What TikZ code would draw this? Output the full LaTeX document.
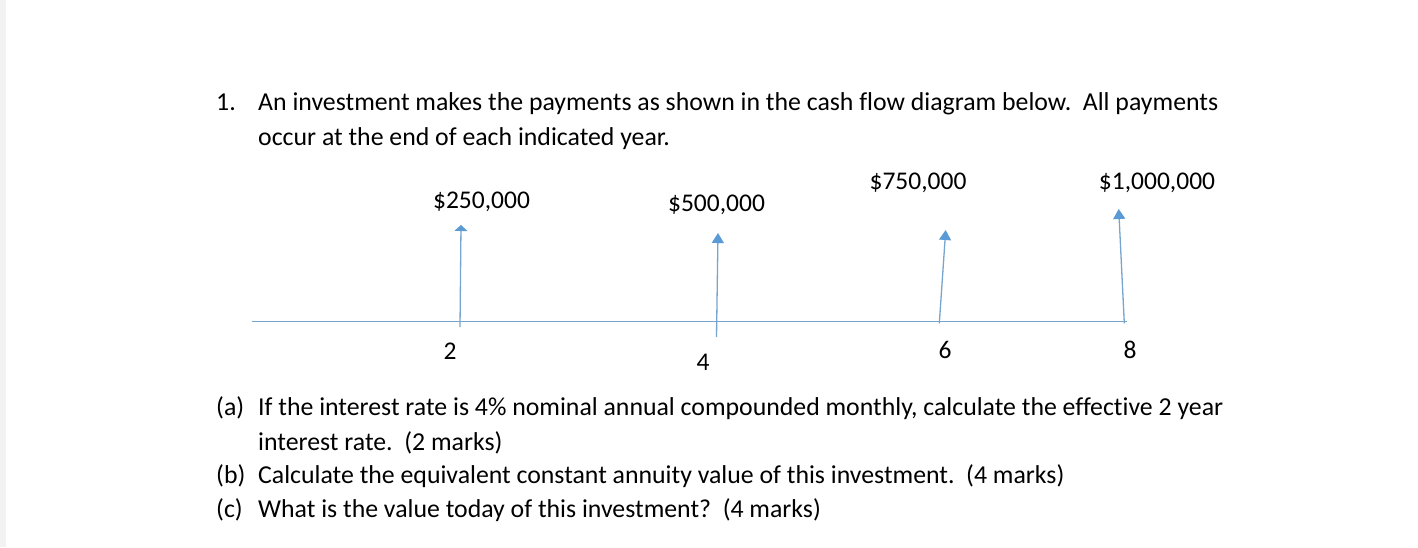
\documentclass[tikz,border=0pt]{standalone}
\usepackage{fontspec}
\setmainfont[Ligatures={NoCommon}]{Carlito}
\usetikzlibrary{arrows.meta}
\definecolor{flowblue}{RGB}{91,155,213}
\definecolor{linblue}{RGB}{120,165,205}
\definecolor{stripgray}{RGB}{242,242,242}
\begin{document}
\begin{tikzpicture}[x=1pt,y=-1pt,
  txt/.style={inner sep=0pt,anchor=base west,font=\fontsize{25.8}{34}\selectfont,text=black},
  lbl/.style={inner sep=0pt,anchor=base,font=\fontsize{25.5}{34}\selectfont,text=black},
  axisline/.style={draw=linblue,line width=1.3pt},
  flow/.style={draw=linblue,line width=1.3pt,-{Triangle[width=12pt,length=10pt,color=flowblue]}},
  flowshort/.style={draw=linblue,line width=1.3pt,-{Triangle[width=13pt,length=6pt,color=flowblue]}}]
\useasboundingbox (0,0) rectangle (1418,547);
\fill[white] (0,0) rectangle (1418,547);
\fill[stripgray] (0,0) rectangle (6,547);
% heading
\node[txt] (num) at (216,110) {1.};
\node[txt] (q1) at (258,110) {An investment makes the payments as shown in the cash flow diagram below.\ \ All payments};
\node[txt] (q2) at (258,145) {occur at the end of each indicated year.};
% amounts
\node[lbl] (a2) at (481.5,208) {\$250,000};
\node[lbl] (a4) at (716.5,211.5) {\$500,000};
\node[lbl] (a6) at (918,189) {\$750,000};
\node[lbl] (a8) at (1157,189) {\$1,000,000};
% axis
\coordinate (axL) at (252,321.7);
\coordinate (axR) at (1127,321.7);
\draw[axisline] (axL) -- (axR);
% arrows
\coordinate (b2) at (460,327);
\coordinate (t2) at (461,225);
\coordinate (b4) at (716.5,337);
\coordinate (t4) at (718,233);
\coordinate (b6) at (939.3,323.3);
\coordinate (t6) at (945.7,230);
\coordinate (b8) at (1124.3,323.3);
\coordinate (t8) at (1118.7,209);
\draw[flowshort] (b2) -- (t2);
\draw[flow] (b4) -- (t4);
\draw[flow] (b6) -- (t6);
\draw[flow] (b8) -- (t8);
% years
\node[lbl] (y2) at (450,359) {2};
\node[lbl] (y4) at (703,370.5) {4};
\node[lbl] (y6) at (945,358) {6};
\node[lbl] (y8) at (1130,358) {8};
% questions
\node[txt] (pa) at (216,415) {(a)};
\node[txt] (qa1) at (258,415) {If the interest rate is 4\% nominal annual compounded monthly, calculate the effective 2 year};
\node[txt] (qa2) at (258,450) {interest rate.\ \ (2 marks)};
\node[txt] (pb) at (216,483) {(b)};
\node[txt] (qb) at (258,483) {Calculate the equivalent constant annuity value of this investment.\ \ (4 marks)};
\node[txt] (pc) at (216,517) {(c)};
\node[txt] (qc) at (258,517) {What is the value today of this investment?\ \ (4 marks)};
\end{tikzpicture}
\end{document}
